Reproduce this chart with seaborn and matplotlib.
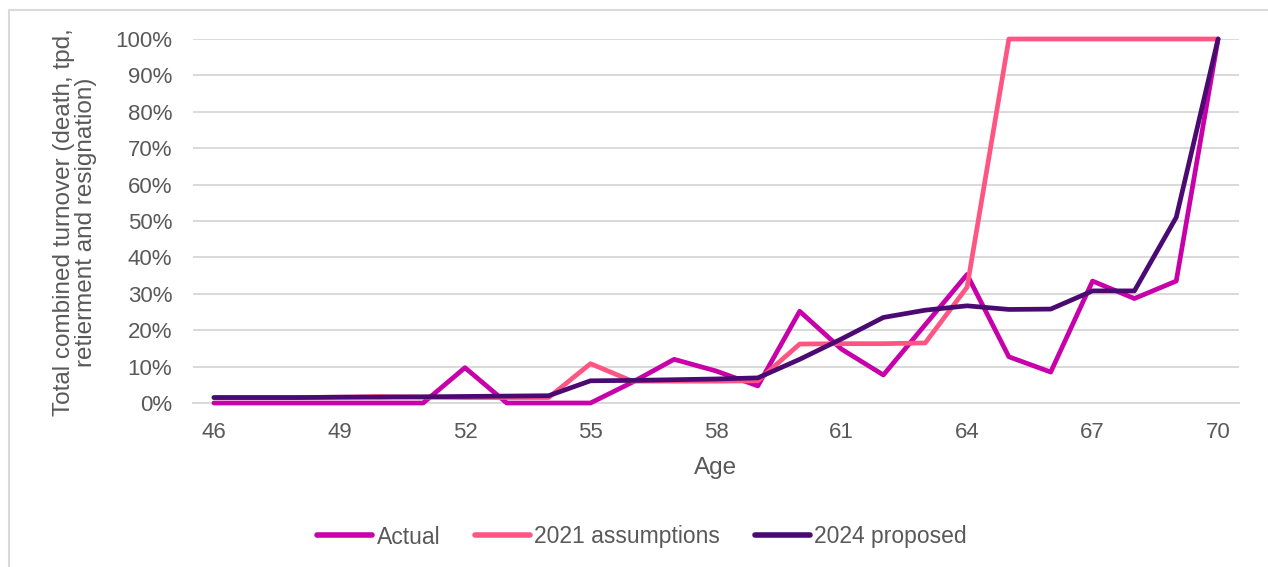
import matplotlib
matplotlib.use("Agg")
import matplotlib.pyplot as plt
import seaborn as sns
import pandas as pd
import numpy as np
from matplotlib.patches import Rectangle
from matplotlib.ticker import PercentFormatter

ages = list(range(46, 71))
actual = [0.0, 0.0, 0.0, 0.0, 0.0, 0.0, 9.7, 0.0, 0.0, 0.0,
          5.7, 12.0, 8.8, 4.7, 25.2, 14.8, 7.7, 21.5, 35.3, 12.7,
          8.5, 33.5, 28.7, 33.5, 100.0]
assump_2021 = [1.5, 1.5, 1.5, 1.6, 1.8, 1.6, 1.5, 1.5, 1.5, 10.8,
               6.0, 6.0, 6.0, 6.1, 16.2, 16.3, 16.3, 16.5, 31.8, 100.0,
               100.0, 100.0, 100.0, 100.0, 100.0]
proposed_2024 = [1.5, 1.5, 1.5, 1.6, 1.6, 1.7, 1.8, 1.9, 2.0, 6.1,
                 6.2, 6.4, 6.6, 6.9, 12.0, 17.6, 23.5, 25.5, 26.7, 25.7,
                 25.8, 30.8, 30.8, 51.0, 100.0]
series_names = ["Actual", "2021 assumptions", "2024 proposed"]
colors = ["#C800AA", "#FF5582", "#4B0A72"]
xtick_ages = list(range(46, 71, 3))

df = pd.concat([
    pd.DataFrame({"Age": ages, "value": np.array(v) / 100.0, "series": n})
    for n, v in zip(series_names, [actual, assump_2021, proposed_2024])
])

sns.set_theme(style="white")
plt.rcParams["font.family"] = ["Liberation Sans", "DejaVu Sans"]

W, H = 1268, 567
fig = plt.figure(figsize=(W / 100, H / 100), dpi=100)
fig.patch.set_facecolor("white")

# chart-area border
fig.patches.append(Rectangle((8.5 / W, -0.05), (W - 8.5 + 10) / W, 1 - 9.5 / H + 0.05,
                             transform=fig.transFigure, fill=False,
                             edgecolor="#D9D9D9", linewidth=1.5))

left, right, top, bottom = 193, 1239, 39, 403
ax = fig.add_axes([left / W, 1 - bottom / H, (right - left) / W, (bottom - top) / H])

sns.lineplot(data=df, x="Age", y="value", hue="series", hue_order=series_names,
             palette=colors, linewidth=3.4, ax=ax, legend=False, sort=False)
for ln in ax.get_lines():
    ln.set_clip_on(False)
    ln.set_solid_joinstyle("round")
    ln.set_zorder(3)

ax.set_xlim(45.5, 70.5)
ax.set_ylim(0, 1)
ax.set_xticks(xtick_ages)
ax.set_yticks(np.arange(0, 1.01, 0.1))
ax.yaxis.set_major_formatter(PercentFormatter(1.0, decimals=0))
ax.grid(axis="y", color="#D9D9D9", linewidth=1.4)
ax.grid(axis="x", visible=False)
for s in ["top", "right", "left"]:
    ax.spines[s].set_visible(False)
ax.spines["bottom"].set_color("#D9D9D9")
ax.spines["bottom"].set_linewidth(1.4)
ax.tick_params(axis="both", length=0, labelsize=16, labelcolor="#595959")
ax.tick_params(axis="y", pad=15)
ax.tick_params(axis="x", pad=14)
ax.set_xlabel("")
ax.set_ylabel("")

fig.text(716 / W, 1 - 468 / H, "Age", ha="center", va="center",
         fontsize=17.5, color="#595959")
fig.text(75 / W, 1 - 222 / H,
         "Total combined turnover (death, tpd,\nretierment and resignation)",
         rotation=90, ha="center", va="center", multialignment="center",
         fontsize=17.5, color="#595959", linespacing=0.95)

handles = [plt.Line2D([], [], color=c, linewidth=4, solid_capstyle="round") for c in colors]
fig.legend(handles, series_names, loc="center", bbox_to_anchor=(642 / W, 1 - 537 / H),
           ncol=3, frameon=False, fontsize=16.5, labelcolor="#595959",
           handlelength=2.4, handletextpad=0.2, columnspacing=1.5)

fig.savefig("out.png", dpi=100, facecolor="white")
